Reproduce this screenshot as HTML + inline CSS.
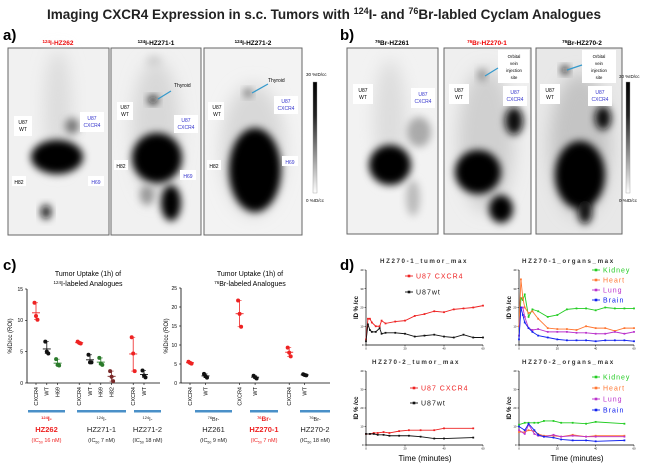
<!DOCTYPE html>
<html><head><meta charset="utf-8"><style>
body{margin:0;background:#fff}
svg{display:block;font-family:"Liberation Sans",sans-serif}
</style></head><body>
<svg id="fig" width="649" height="466" viewBox="0 0 649 466">
<defs>
<filter id="b3" x="-50%" y="-50%" width="200%" height="200%"><feGaussianBlur stdDeviation="4"/></filter>
<filter id="b6" x="-50%" y="-50%" width="200%" height="200%"><feGaussianBlur stdDeviation="8"/></filter>
<linearGradient id="cb" x1="0" y1="0" x2="0" y2="1"><stop offset="0" stop-color="#000"/><stop offset="0.3" stop-color="#222"/><stop offset="1" stop-color="#fff"/></linearGradient>
</defs>
<text x="324" y="19" text-anchor="middle" font-size="13.5" font-weight="bold" fill="#222">Imaging CXCR4 Expression in s.c. Tumors with <tspan font-size="9" dy="-5">124</tspan><tspan dy="5">I- and </tspan><tspan font-size="9" dy="-5">76</tspan><tspan dy="5">Br-labled Cyclam Analogues</tspan></text>
<text x="3" y="40" font-size="15" font-weight="bold">a)</text>
<text x="340" y="40" font-size="15" font-weight="bold">b)</text>
<text x="3" y="270" font-size="15" font-weight="bold">c)</text>
<text x="340" y="270" font-size="15" font-weight="bold">d)</text>

<!-- panel a images -->
<g>
<text x="58" y="45" text-anchor="middle" font-size="6.5" font-weight="bold" fill="#e00"><tspan font-size="4.5" dy="-2">124</tspan><tspan dy="2">I-HZ262</tspan></text>
<rect x="8" y="48" width="101" height="187" fill="#f1f1f1" stroke="#666"/>
<ellipse cx="58" cy="110" rx="14" ry="60" fill="#ddd" filter="url(#b6)"/>
<ellipse cx="72" cy="126" rx="7" ry="8" fill="#777" filter="url(#b3)"/>
<ellipse cx="57" cy="157" rx="26" ry="17" fill="#000" filter="url(#b3)"/>
<ellipse cx="46" cy="212" rx="5" ry="7" fill="#111" filter="url(#b3)"/>
<rect x="14" y="116" width="18" height="20" fill="#fff"/><text x="23" y="124" font-size="5" text-anchor="middle">U87</text><text x="23" y="131" font-size="5" text-anchor="middle">WT</text>
<rect x="80" y="112" width="24" height="20" fill="#fff"/><text x="92" y="120" font-size="5" text-anchor="middle" fill="#33c">U87</text><text x="92" y="127" font-size="5" text-anchor="middle" fill="#33c">CXCR4</text>
<rect x="12" y="176" width="14" height="10" fill="#fff"/><text x="19" y="184" font-size="5" text-anchor="middle">H82</text>
<rect x="88" y="176" width="16" height="10" fill="#fff"/><text x="96" y="184" font-size="5" text-anchor="middle" fill="#33c">H69</text>
</g>
<g>
<text x="156" y="45" text-anchor="middle" font-size="6.5" font-weight="bold"><tspan font-size="4.5" dy="-2">124</tspan><tspan dy="2">I-HZ271-1</tspan></text>
<rect x="111" y="48" width="90" height="187" fill="#f1f1f1" stroke="#666"/>
<ellipse cx="154" cy="62" rx="7" ry="6" fill="#ccc" filter="url(#b3)"/>
<ellipse cx="156" cy="130" rx="24" ry="70" fill="#d8d8d8" filter="url(#b6)"/>
<ellipse cx="153" cy="100" rx="5" ry="4" fill="#111" filter="url(#b3)"/>
<ellipse cx="157" cy="158" rx="25" ry="25" fill="#000" filter="url(#b3)"/>
<ellipse cx="171" cy="203" rx="10" ry="18" fill="#000" filter="url(#b3)"/>
<ellipse cx="147" cy="195" rx="7" ry="10" fill="#999" filter="url(#b3)"/>
<line x1="171" y1="91" x2="158" y2="99" stroke="#39c" stroke-width="1.2"/>
<text x="174" y="87" font-size="5">Thyroid</text>
<rect x="117" y="102" width="16" height="18" fill="#fff"/><text x="125" y="109" font-size="5" text-anchor="middle">U87</text><text x="125" y="116" font-size="5" text-anchor="middle">WT</text>
<rect x="174" y="115" width="24" height="18" fill="#fff"/><text x="186" y="122" font-size="5" text-anchor="middle" fill="#33c">U87</text><text x="186" y="129" font-size="5" text-anchor="middle" fill="#33c">CXCR4</text>
<rect x="114" y="160" width="14" height="10" fill="#fff"/><text x="121" y="168" font-size="5" text-anchor="middle">H82</text>
<rect x="180" y="170" width="16" height="10" fill="#fff"/><text x="188" y="178" font-size="5" text-anchor="middle" fill="#33c">H69</text>
</g>
<g>
<text x="253" y="45" text-anchor="middle" font-size="6.5" font-weight="bold"><tspan font-size="4.5" dy="-2">124</tspan><tspan dy="2">I-HZ271-2</tspan></text>
<rect x="204" y="48" width="98" height="187" fill="#f3f3f3" stroke="#666"/>
<ellipse cx="253" cy="150" rx="32" ry="66" fill="#d8d8d8" filter="url(#b6)"/>
<ellipse cx="248" cy="93" rx="4" ry="4" fill="#666" filter="url(#b3)"/>
<ellipse cx="255" cy="170" rx="26" ry="42" fill="#000" filter="url(#b3)"/>
<line x1="268" y1="84" x2="252" y2="93" stroke="#39c" stroke-width="1.2"/>
<text x="268" y="82" font-size="5">Thyroid</text>
<rect x="208" y="102" width="16" height="18" fill="#fff"/><text x="217" y="109" font-size="5" text-anchor="middle">U87</text><text x="217" y="116" font-size="5" text-anchor="middle">WT</text>
<rect x="274" y="96" width="24" height="18" fill="#fff"/><text x="286" y="103" font-size="5" text-anchor="middle" fill="#33c">U87</text><text x="286" y="110" font-size="5" text-anchor="middle" fill="#33c">CXCR4</text>
<rect x="207" y="160" width="14" height="10" fill="#fff"/><text x="214" y="168" font-size="5" text-anchor="middle">H82</text>
<rect x="282" y="156" width="16" height="10" fill="#fff"/><text x="290" y="164" font-size="5" text-anchor="middle" fill="#33c">H69</text>
</g>
<g>
<rect x="313" y="82" width="4" height="111" fill="url(#cb)" stroke="#999" stroke-width="0.4"/>
<text x="306" y="76" font-size="4.5">30 %ID/cc</text><text x="306" y="202" font-size="4.5">0 %ID/cc</text>
</g>

<!-- panel b images -->
<g>
<text x="392" y="45" text-anchor="middle" font-size="6.5" font-weight="bold"><tspan font-size="4.5" dy="-2">76</tspan><tspan dy="2">Br-HZ261</tspan></text>
<rect x="347" y="48" width="91" height="186" fill="#f2f2f2" stroke="#666"/>
<ellipse cx="390" cy="120" rx="16" ry="60" fill="#ddd" filter="url(#b6)"/>
<ellipse cx="419" cy="132" rx="12" ry="15" fill="#aaa" filter="url(#b3)"/>
<ellipse cx="390" cy="165" rx="21" ry="20" fill="#000" filter="url(#b3)"/>
<ellipse cx="413" cy="198" rx="7" ry="18" fill="#bbb" filter="url(#b3)"/>
<rect x="353" y="84" width="20" height="20" fill="#fff"/><text x="363" y="92" font-size="5" text-anchor="middle">U87</text><text x="363" y="99" font-size="5" text-anchor="middle">WT</text>
<rect x="411" y="88" width="24" height="20" fill="#fff"/><text x="423" y="96" font-size="5" text-anchor="middle" fill="#33c">U87</text><text x="423" y="103" font-size="5" text-anchor="middle" fill="#33c">CXCR4</text>
</g>
<g>
<text x="487" y="45" text-anchor="middle" font-size="6.5" font-weight="bold" fill="#e00"><tspan font-size="4.5" dy="-2">76</tspan><tspan dy="2">Br-HZ270-1</tspan></text>
<rect x="444" y="48" width="87" height="186" fill="#efefef" stroke="#666"/>
<ellipse cx="486" cy="140" rx="28" ry="72" fill="#d0d0d0" filter="url(#b6)"/>
<ellipse cx="482" cy="75" rx="4" ry="6" fill="#888" filter="url(#b3)"/>
<ellipse cx="514" cy="121" rx="9" ry="14" fill="#111" filter="url(#b3)"/>
<ellipse cx="478" cy="172" rx="23" ry="22" fill="#000" filter="url(#b3)"/>
<ellipse cx="501" cy="209" rx="12" ry="14" fill="#000" filter="url(#b3)"/>
<rect x="498" y="50" width="31" height="33" fill="#fff"/><text x="514" y="58" font-size="4.3" text-anchor="middle">Orbital</text><text x="514" y="65" font-size="4.3" text-anchor="middle">vein</text><text x="514" y="72" font-size="4.3" text-anchor="middle">injection</text><text x="514" y="79" font-size="4.3" text-anchor="middle">site</text>
<line x1="498" y1="68" x2="485" y2="76" stroke="#39c" stroke-width="1.2"/>
<rect x="449" y="84" width="20" height="20" fill="#fff"/><text x="459" y="92" font-size="5" text-anchor="middle">U87</text><text x="459" y="99" font-size="5" text-anchor="middle">WT</text>
<rect x="503" y="86" width="24" height="20" fill="#fff"/><text x="515" y="94" font-size="5" text-anchor="middle" fill="#33c">U87</text><text x="515" y="101" font-size="5" text-anchor="middle" fill="#33c">CXCR4</text>
</g>
<g>
<text x="582" y="45" text-anchor="middle" font-size="6.5" font-weight="bold"><tspan font-size="4.5" dy="-2">76</tspan><tspan dy="2">Br-HZ270-2</tspan></text>
<rect x="536" y="48" width="86" height="186" fill="#e8e8e8" stroke="#666"/>
<ellipse cx="580" cy="145" rx="30" ry="72" fill="#c4c4c4" filter="url(#b6)"/>
<ellipse cx="565" cy="70" rx="4" ry="4" fill="#111" filter="url(#b3)"/>
<ellipse cx="603" cy="118" rx="8" ry="12" fill="#111" filter="url(#b3)"/>
<ellipse cx="580" cy="175" rx="25" ry="34" fill="#000" filter="url(#b3)"/>
<ellipse cx="585" cy="212" rx="7" ry="12" fill="#111" filter="url(#b3)"/>
<rect x="582" y="50" width="34" height="33" fill="#fff"/><text x="599" y="58" font-size="4.3" text-anchor="middle">Orbital</text><text x="599" y="65" font-size="4.3" text-anchor="middle">vein</text><text x="599" y="72" font-size="4.3" text-anchor="middle">injection</text><text x="599" y="79" font-size="4.3" text-anchor="middle">site</text>
<line x1="582" y1="65" x2="567" y2="70" stroke="#39c" stroke-width="1.2"/>
<rect x="540" y="84" width="20" height="20" fill="#fff"/><text x="550" y="92" font-size="5" text-anchor="middle">U87</text><text x="550" y="99" font-size="5" text-anchor="middle">WT</text>
<rect x="588" y="86" width="24" height="20" fill="#fff"/><text x="600" y="94" font-size="5" text-anchor="middle" fill="#33c">U87</text><text x="600" y="101" font-size="5" text-anchor="middle" fill="#33c">CXCR4</text>
</g>
<g>
<rect x="626" y="82" width="4" height="111" fill="url(#cb)" stroke="#999" stroke-width="0.4"/>
<text x="619" y="78" font-size="4.5">30 %ID/cc</text><text x="619" y="202" font-size="4.5">0 %ID/cc</text>
</g>

<!-- panel c titles & labels -->
<text x="88" y="276" text-anchor="middle" font-size="7">Tumor Uptake (1h) of</text>
<text x="88" y="286" text-anchor="middle" font-size="7"><tspan font-size="4.5" dy="-2">124</tspan><tspan dy="2">I-labeled Analogues</tspan></text>
<text x="250" y="276" text-anchor="middle" font-size="7">Tumor Uptake (1h) of</text>
<text x="250" y="286" text-anchor="middle" font-size="7"><tspan font-size="4.5" dy="-2">76</tspan><tspan dy="2">Br-labeled Analogues</tspan></text>
<g id="cc"></g>
<g id="dd"></g>
</svg>
<script>
// ---- panel c data ----
const c1Cats = ["CXCR4","WT","H69","CXCR4","WT","H69","H82","CXCR4","WT"];
const c1Slot = [0,1,2,4,5,6,7,9,10];
const c1Colors = ["#e22","#111","#2a7a2a","#e22","#111","#2a7a2a","#7a2a2a","#e22","#111"];
const c1Pts = [[12.8,10.7,10.1],[6.6,5.0,4.7],[3.8,2.9,2.8],[6.6,6.4,6.3],[4.5,3.3,3.3],[4.0,3.1,2.9],[1.9,1.0,0.3],[7.3,4.7,1.9],[2.0,1.2,0.9]];
const c1Ticks = [0,5,10,15];
const c2Cats = ["CXCR4","WT","CXCR4","WT","CXCR4","WT"];
const c2Slot = [0,1,3.2,4.2,6.4,7.4];
const c2Colors = ["#e22","#111","#e22","#111","#e22","#111"];
const c2Pts = [[5.6,5.3,5.1],[2.4,1.8,1.4],[21.7,18.2,14.8],[1.9,1.5,1.2],[9.3,8.0,7.0],[2.3,2.1,2.0]];
const c2Ticks = [0,5,10,15,20,25];
// ---- panel d data ----
const d1T = [0,1,2,3,5,7,8,10,15,20,25,30,35,40,45,50,55,60];
const d1Cxcr4 = [3,14,14,12,10,10,13,11.5,12.5,13,15.5,16.5,18,17.5,19,19.5,20,21];
const d1Wt = [2,11,8,7,7,9,6,6.5,6.5,6,4.5,5,5.5,4.5,4,5.5,4,4];
const d2T = [0,1,2,3,5,7,10,15,20,25,30,35,40,45,50,55,60];
const d2Kidney = [5,25,24,27,15,19,18,15,16,19,19.5,19.5,18.5,20,19.5,19.5,19.5];
const d2Heart = [10,35,25,20,17,18,14,9,8.5,8.5,8,10,9,9,7.5,9,9];
const d2Lung = [5,20,20,15,9,8,8.5,7,7,7,6.5,6.5,6,6,7,6,7];
const d2Brain = [3,20,16,12,9,7,5,4,3,2.5,2.5,2.5,2,2.5,2.5,2.5,2];
const d3T = [0,2,4,6,9,12,17,22,28,35,40,55];
const d3Cxcr4 = [6,6,6.5,6.5,7,6.5,7.5,8,8,8,9,9];
const d3Wt = [6,6,6,5.5,5.5,5,5,5,4.5,3.5,3.5,4];
const d4T = [0,3,5,8,10,13,18,22,28,35,40,55];
const d4Kidney = [11,12,12,12,12,13,13,12,12,11.5,12.5,11.5];
const d4Heart = [7,7,8,7.5,6,5,5,4.5,5.5,4.5,5,5];
const d4Lung = [8,6,11,6,5,4.5,5.5,4.5,5,4.5,4.5,4.5];
const d4Brain = [10,8,11.5,8,5.5,4.5,4,3,2.5,2.5,2,2.5];
const dTicksY = [0,10,20,30,40];
const dTicksX = [0,20,40,60];

const NS="http://www.w3.org/2000/svg";
function mk(parent,tag,attrs,txt){const e=document.createElementNS(NS,tag);for(const k in attrs)e.setAttribute(k,attrs[k]);if(txt!==undefined)e.textContent=txt;parent.appendChild(e);return e;}

function scatter(g,ox,slotW,y0,y1,ymax,ticks,cats,slots,colors,pts,xEnd){
  const sy=v=>y0-(v/ymax)*(y0-y1);
  const sx=s=>ox+9+s*slotW;
  const ax=mk(g,"line",{x1:ox,y1:y1,x2:ox,y2:y0,stroke:"#000","stroke-width":0.8});
  
  
  mk(g,"line",{x1:ox,y1:y0,x2:xEnd,y2:y0,stroke:"#000","stroke-width":0.8});
  ticks.forEach(t=>{mk(g,"line",{x1:ox-2,x2:ox,y1:sy(t),y2:sy(t),stroke:"#000","stroke-width":0.6});
    const tl=mk(g,"text",{x:ox-4,y:sy(t)+1.8,"font-size":5,"text-anchor":"end"},t);
    
    });
  cats.forEach((c,i)=>{const x=sx(slots[i]);const p=pts[i];
    const m=p.reduce((a,b)=>a+b,0)/p.length;const mx=Math.max(...p),mn=Math.min(...p);
    mk(g,"line",{x1:x,x2:x,y1:sy(mx),y2:sy(mn),stroke:colors[i],"stroke-width":0.8});
    mk(g,"line",{x1:x-4,x2:x+4,y1:sy(m),y2:sy(m),stroke:colors[i],"stroke-width":0.9});
    mk(g,"line",{x1:x-2,x2:x+2,y1:sy(mx),y2:sy(mx),stroke:colors[i],"stroke-width":0.6});
    mk(g,"line",{x1:x-2,x2:x+2,y1:sy(mn),y2:sy(mn),stroke:colors[i],"stroke-width":0.6});
    p.forEach((v,j)=>{const d=mk(g,"circle",{cx:x+(j-1)*1.5,cy:sy(v),r:2,fill:colors[i]});
      
      });
    mk(g,"line",{x1:x,x2:x,y1:y0,y2:y0+2,stroke:"#000","stroke-width":0.6});
    const lb=mk(g,"text",{x:x+1.8,y:y0+4,"font-size":5.5,"text-anchor":"end",transform:`rotate(-90 ${x+1.8} ${y0+4})`},c);
    
    
  });
  return {sx};
}
const cc=document.getElementById("cc");
scatter(cc,27,10.8,383,289,15,c1Ticks,c1Cats,c1Slot,c1Colors,c1Pts,160);
scatter(cc,181,15.5,383,288,25,c2Ticks,c2Cats,c2Slot,c2Colors,c2Pts,330);
const yl1=mk(cc,"text",{x:12,y:336,"font-size":6,"text-anchor":"middle",transform:"rotate(-90 12 336)"},"%ID/cc (ROI)");


const yl2=mk(cc,"text",{x:168,y:336,"font-size":6,"text-anchor":"middle",transform:"rotate(-90 168 336)"},"%ID/cc (ROI)");


const groups=[
 [28,65,"124","I-","HZ262","16","#e22"],[77,126,"124","I-","HZ271-1","7","#222"],[134,161,"124","I-","HZ271-2","18","#222"],
 [195,232,"76","Br-","HZ261","9","#222"],[250,278,"76","Br-","HZ270-1","7","#e22"],[300,330,"76","Br-","HZ270-2","18","#222"]];
groups.forEach(gr=>{const cx=(gr[0]+gr[1])/2;
  const bar=mk(cc,"rect",{x:gr[0],y:410,width:gr[1]-gr[0],height:2.5,fill:"#4a90c8"});
  
  
  const big=gr[6]!=="#222";
  const t1=mk(cc,"text",{x:cx,y:421,"font-size":big?6.5:5.5,"text-anchor":"middle",fill:gr[6],"font-weight":big?"bold":"normal"});
  mk(t1,"tspan",{"font-size":4,dy:-2},gr[2]);mk(t1,"tspan",{dy:2},gr[3]);
  
  
  const t2=mk(cc,"text",{x:cx,y:432,"font-size":7.5,"text-anchor":"middle",fill:gr[6],"font-weight":big?"bold":"normal"},gr[4]);
  
  
  const t3=mk(cc,"text",{x:cx,y:442,"font-size":5.5,"text-anchor":"middle",fill:gr[6]});
  mk(t3,"tspan",{},"(IC");mk(t3,"tspan",{"font-size":3.5,dy:1.5},"50");mk(t3,"tspan",{dy:-1.5}," "+gr[5]+" nM)");
  
  
});

// ---- panel d ----
const dd=document.getElementById("dd");
function lineChart(ox,x1,y0,y1,title,tx,series,legY,legX){
  const sx=t=>ox+(t/60)*(x1-ox), sy=v=>y0-(v/40)*(y0-y1);
  const tt=mk(dd,"text",{x:tx,y:y1-7,"font-size":6.2,"font-weight":"bold","letter-spacing":"1.6",fill:"#333"},title);
  
  
  mk(dd,"line",{x1:ox,x2:ox,y1:y1,y2:y0,stroke:"#000","stroke-width":0.7});
  mk(dd,"line",{x1:ox,x2:x1,y1:y0,y2:y0,stroke:"#000","stroke-width":0.7});
  dTicksY.forEach(v=>{mk(dd,"line",{x1:ox-1.5,x2:ox,y1:sy(v),y2:sy(v),stroke:"#000","stroke-width":0.5});
    const l=mk(dd,"text",{x:ox-2.5,y:sy(v)+1,"font-size":2.8,"text-anchor":"end"},v);
    
    });
  dTicksX.forEach(v=>{mk(dd,"line",{x1:sx(v),x2:sx(v),y1:y0,y2:y0+1.5,stroke:"#000","stroke-width":0.5});
    const l=mk(dd,"text",{x:sx(v),y:y0+4.5,"font-size":2.8,"text-anchor":"middle"},v);
    
    });
  const yl=mk(dd,"text",{x:ox-8,y:(y0+y1)/2,"font-size":6,"font-weight":"bold","text-anchor":"middle",transform:`rotate(-90 ${ox-8} ${(y0+y1)/2})`},"ID % /cc");
  
  
  series.forEach((s,i)=>{
    const pts=s.t.map((t,j)=>sx(t)+","+sy(s.v[j])).join(" ");
    const pl=mk(dd,"polyline",{points:pts,fill:"none",stroke:s.c,"stroke-width":0.9});
    
    
    s.t.forEach((t,j)=>{mk(dd,"rect",{x:sx(t)-0.9,y:sy(s.v[j])-0.9,width:1.8,height:1.8,fill:s.c});});
    const ly=legY[i];
    mk(dd,"line",{x1:legX-4,x2:legX+4,y1:ly,y2:ly,stroke:s.c,"stroke-width":0.9});
    mk(dd,"rect",{x:legX-1.3,y:ly-1.3,width:2.6,height:2.6,fill:s.c});
    const lt=mk(dd,"text",{x:legX+7,y:ly+2.5,"font-size":7,"letter-spacing":"1",fill:s.c},s.n);
    
    
  });
}
lineChart(366,483,345,270,"HZ270-1_tumor_max",380,[{t:d1T,v:d1Cxcr4,c:"#e22",n:"U87 CXCR4"},{t:d1T,v:d1Wt,c:"#111",n:"U87wt"}],[276,292],409);
lineChart(519,634,345,270,"HZ270-1_organs_max",522,[{t:d2T,v:d2Kidney,c:"#2c2",n:"Kidney"},{t:d2T,v:d2Heart,c:"#f73",n:"Heart"},{t:d2T,v:d2Lung,c:"#b3c",n:"Lung"},{t:d2T,v:d2Brain,c:"#12e",n:"Brain"}],[270,280,290,300],596);
lineChart(366,483,445,371,"HZ270-2_tumor_max",372,[{t:d3T,v:d3Cxcr4,c:"#e22",n:"U87 CXCR4"},{t:d3T,v:d3Wt,c:"#111",n:"U87wt"}],[388,403],414);
lineChart(519,634,445,371,"HZ270-2_organs_max",522,[{t:d4T,v:d4Kidney,c:"#2c2",n:"Kidney"},{t:d4T,v:d4Heart,c:"#f73",n:"Heart"},{t:d4T,v:d4Lung,c:"#b3c",n:"Lung"},{t:d4T,v:d4Brain,c:"#12e",n:"Brain"}],[377,388,399,410],596);
[[425],[577]].forEach(a=>{const t=mk(dd,"text",{x:a[0],y:461,"font-size":8,"text-anchor":"middle"},"Time (minutes)");
  
  });
</script>
</body></html>
